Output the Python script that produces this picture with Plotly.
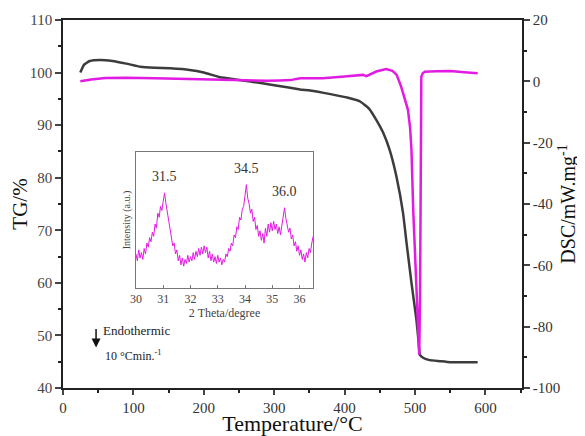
import plotly.graph_objects as go

# TG curve (left axis)
tg_temp = [24.6, 30, 38, 53, 70, 90, 110, 130, 152, 180, 200, 223, 245, 266, 300, 337, 351, 380, 405, 422, 435, 445, 455, 464, 474, 483, 488, 495, 502, 505, 507, 512, 521, 535, 550, 570, 589]
tg_val = [100.0, 101.5, 102.2, 102.4, 102.2, 101.7, 101.1, 100.9, 100.8, 100.5, 100.0, 99.1, 98.7, 98.3, 97.6, 96.8, 96.6, 95.9, 95.2, 94.5, 93.1, 91.0, 88.5, 85.3, 80.0, 73.3, 67.6, 60.0, 53.0, 49.0, 46.3, 45.7, 45.3, 45.1, 44.9, 44.9, 44.9]

# DSC curve (right axis)
dsc_temp = [24.6, 40, 60, 90, 130, 170, 200, 240, 266, 290, 308, 323, 337, 369, 400, 426, 431, 445, 459, 468, 474, 480, 486, 490, 493, 495, 497.5, 500, 502, 504, 506, 507.2, 508, 508.5, 509, 511, 514, 530, 550, 570, 589]
dsc_val = [0.0, 0.6, 1.1, 1.2, 1.0, 0.8, 0.66, 0.4, 0.1, 0.2, 0.3, 0.4, 1.0, 1.0, 1.6, 2.1, 1.7, 3.2, 4.0, 3.4, 2.1, -1.5, -6.1, -9.3, -15, -22.4, -42, -55, -69, -80, -89.2, -70, -42, -15, 1.5, 2.6, 3.1, 3.3, 3.4, 3.0, 2.6]

# Inset XRD pattern
xrd_theta = [round(30 + 0.05 * i, 2) for i in range(131)]
xrd_int = [25, 20, 28, 22, 26, 21, 29, 25, 33, 30, 37, 34, 41, 38, 47, 44, 55, 52, 60, 57,
           64, 70, 62, 55, 49, 42, 36, 31, 33, 25, 28, 20, 24, 17, 22, 16, 21, 18, 24, 19,
           23, 20, 26, 21, 27, 23, 29, 24, 30, 25, 31, 26, 30, 22, 27, 20, 25, 19, 23, 18,
           24, 19, 22, 17, 21, 19, 25, 23, 29, 27, 33, 31, 39, 37, 45, 43, 52, 50, 58, 60,
           68, 76, 66, 62, 55, 58, 49, 52, 43, 46, 38, 42, 35, 40, 33, 44, 38, 47, 41, 48,
           42, 49, 43, 47, 40, 45, 39, 46, 52, 59, 51, 46, 41, 44, 36, 39, 31, 34, 27, 31,
           24, 28, 21, 25, 19, 26, 22, 29, 26, 33, 38]

x_ticks = [0, 100, 200, 300, 400, 500, 600]
tg_ticks = [40, 50, 60, 70, 80, 90, 100, 110]
dsc_ticks = [-100, -80, -60, -40, -20, 0, 20]
dsc_tick_text = ["-100", "-80", "-60", "-40", "-20", "0", "20"]
inset_ticks = [30, 31, 32, 33, 34, 35, 36]
peak_labels = ["31.5", "34.5", "36.0"]
peak_pos = [31.05, 34.05, 35.45]
peak_h = [70, 76, 59]

FONT = "Liberation Serif"
TG_COLOR = "#3c3c3c"
DSC_COLOR = "#e21be2"
AX = "#222222"

fig = go.Figure()
fig.add_trace(go.Scatter(x=tg_temp, y=tg_val, mode="lines", line=dict(color=TG_COLOR, width=2.5, shape="spline", smoothing=0.4),
                         xaxis="x", yaxis="y", showlegend=False))
fig.add_trace(go.Scatter(x=dsc_temp, y=dsc_val, mode="lines", line=dict(color=DSC_COLOR, width=2.5),
                         xaxis="x", yaxis="y2", showlegend=False))
fig.add_trace(go.Scatter(x=xrd_theta, y=xrd_int, mode="lines", line=dict(color=DSC_COLOR, width=1),
                         xaxis="x2", yaxis="y3", showlegend=False))

for lab, px, ph in zip(peak_labels, peak_pos, peak_h):
    fig.add_annotation(x=px, y=ph, xref="x2", yref="y3", text=lab, showarrow=False,
                       yshift=16, font=dict(family=FONT, size=14, color="#333"))

fig.add_annotation(x=0.072, y=0.11, xref="paper", yref="paper", ax=0, ay=-20, text="",
                   showarrow=True, arrowhead=2, arrowsize=1.2, arrowwidth=1.5, arrowcolor="#111")
fig.add_annotation(x=0.083, y=0.13, xref="paper", yref="paper", text="Endothermic", showarrow=False,
                   xanchor="left", font=dict(family=FONT, size=13, color="#222"))
fig.add_annotation(x=0.087, y=0.063, xref="paper", yref="paper", text="10 °Cmin.<sup>-1</sup>", showarrow=False,
                   xanchor="left", font=dict(family=FONT, size=12, color="#222"))

fig.update_layout(
    width=577, height=428,
    margin=dict(l=55, r=63, t=12, b=48),
    paper_bgcolor="white", plot_bgcolor="white",
    font=dict(family=FONT, color="#333"),
    xaxis=dict(range=[0, 652], tickvals=x_ticks, ticks="outside", ticklen=5, tickwidth=1.5, automargin=False,
               minor=dict(dtick=50, ticks="outside", ticklen=3, tickcolor=AX),
               showline=True, linecolor=AX, linewidth=1.5, mirror=True, showgrid=False, zeroline=False,
               tickfont=dict(size=15, family=FONT, color="#333"),
               title=dict(text="Temperature/°C", font=dict(size=22, family=FONT, color="#111"), standoff=4)),
    yaxis=dict(range=[40, 110], tickvals=tg_ticks, ticks="outside", ticklen=6, tickwidth=1.5, automargin=False,
               minor=dict(dtick=5, ticks="outside", ticklen=3, tickcolor=AX),
               showline=True, linecolor=AX, linewidth=1.5, showgrid=False, zeroline=False,
               tickfont=dict(size=15, family=FONT, color="#444"),
               title=dict(text="TG/%", font=dict(size=21, family=FONT, color="#111"), standoff=0)),
    yaxis2=dict(range=[-100, 20], tickvals=dsc_ticks, ticktext=dsc_tick_text, overlaying="y", side="right", anchor="x",
                ticks="outside", ticklen=6, tickwidth=1.5, automargin=False,
                minor=dict(dtick=10, ticks="outside", ticklen=3, tickcolor=AX),
                showline=True, linecolor=AX, linewidth=1.5, showgrid=False, zeroline=False,
                tickfont=dict(size=15, family=FONT, color="#333"),
                title=dict(text="DSC/mW.mg<sup>-1</sup>", font=dict(size=20, family=FONT, color="#111"), standoff=2)),
    xaxis2=dict(domain=[0.159, 0.545], anchor="y3", range=[30, 36.5], tickvals=inset_ticks,
                ticks="inside", ticklen=3, tickcolor="#777",
                showline=True, linecolor="#777", linewidth=1.2, mirror=True, showgrid=False, zeroline=False,
                tickfont=dict(size=12, family=FONT, color="#444"),
                title=dict(text="2 Theta/degree", font=dict(size=12, family=FONT, color="#444"), standoff=2)),
    yaxis3=dict(domain=[0.272, 0.641], anchor="x2", range=[0, 100], showticklabels=False, ticks="",
                showline=True, linecolor="#777", linewidth=1.2, mirror=True, showgrid=False, zeroline=False,
                title=dict(text="Intensity (a.u.)", font=dict(size=10, family=FONT, color="#444"), standoff=2)),
)

fig.write_html("out.html")
